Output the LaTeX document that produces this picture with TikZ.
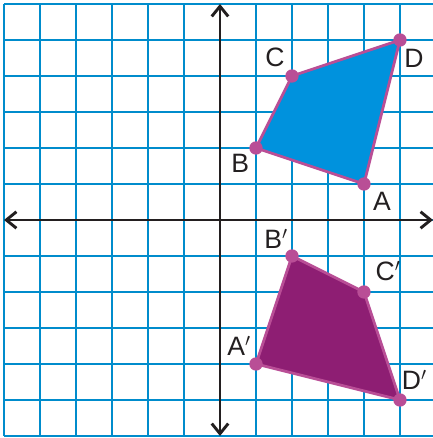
\documentclass[tikz,border=0pt]{standalone}
\usepackage{fontspec}
\setmainfont{Liberation Sans}
\usetikzlibrary{arrows.meta}
\definecolor{gridblue}{RGB}{0,140,204}
\definecolor{quadblue}{RGB}{0,146,221}
\definecolor{edgemag}{RGB}{185,78,150}
\definecolor{quadpurple}{RGB}{142,30,115}
\definecolor{axisblack}{RGB}{35,31,32}
\tikzset{
  gridline/.style={gridblue, line width=1.6pt},
  axisline/.style={axisblack, line width=2.3pt, -{Straight Barb[length=8pt,width=13pt]}},
  quadedge/.style={edgemag, line width=2.2pt, line join=round},
  ptdot/.style={circle, fill=edgemag, inner sep=0pt, minimum size=0.37cm},
  ptlabel/.style={font=\fontsize{21}{21}\selectfont, text=axisblack, inner sep=0pt}
}
\begin{document}
\begin{tikzpicture}
\useasboundingbox (-6.111,-6.056) rectangle (5.917,6.111);
\fill[white] (-6.111,-6.056) rectangle (5.917,6.111);
% grid
\draw[gridline] (-6,-6) grid (6,6);
% coordinates
\coordinate (A) at (4,1);
\coordinate (B) at (1,2);
\coordinate (C) at (2,4);
\coordinate (D) at (5,5);
\coordinate (A2) at (1,-4);
\coordinate (B2) at (2,-1);
\coordinate (C2) at (4,-2);
\coordinate (D2) at (5,-5);
\coordinate (xl) at (-6,0);
\coordinate (xr) at (5.917,0);
\coordinate (yt) at (0,6);
\coordinate (yb) at (0,-6);
\coordinate (o) at (0,0);
% axes
\draw[axisline] (o) -- (xr);
\draw[axisline] (o) -- (xl);
\draw[axisline] (o) -- (yt);
\draw[axisline] (o) -- (yb);
% quadrilaterals
\filldraw[quadedge, fill=quadblue] (A) -- (B) -- (C) -- (D) -- cycle;
\filldraw[quadedge, fill=quadpurple] (A2) -- (B2) -- (C2) -- (D2) -- cycle;
% dots
\foreach \p in {A,B,C,D,A2,B2,C2,D2} \node[ptdot] (dot\p) at (\p) {};
% labels
\node[ptlabel] (lA) at (4.5,0.53) {A};
\node[ptlabel] (lB) at (0.56,1.56) {B};
\node[ptlabel] (lC) at (1.53,4.51) {C};
\node[ptlabel] (lD) at (5.39,4.5) {D};
\node[ptlabel] (lA2) at (0.53,-3.5) {A$'$};
\node[ptlabel] (lB2) at (1.56,-0.53) {B$'$};
\node[ptlabel] (lC2) at (4.67,-1.42) {C$'$};
\node[ptlabel] (lD2) at (5.4,-4.44) {D$'$};
\end{tikzpicture}
\end{document}
